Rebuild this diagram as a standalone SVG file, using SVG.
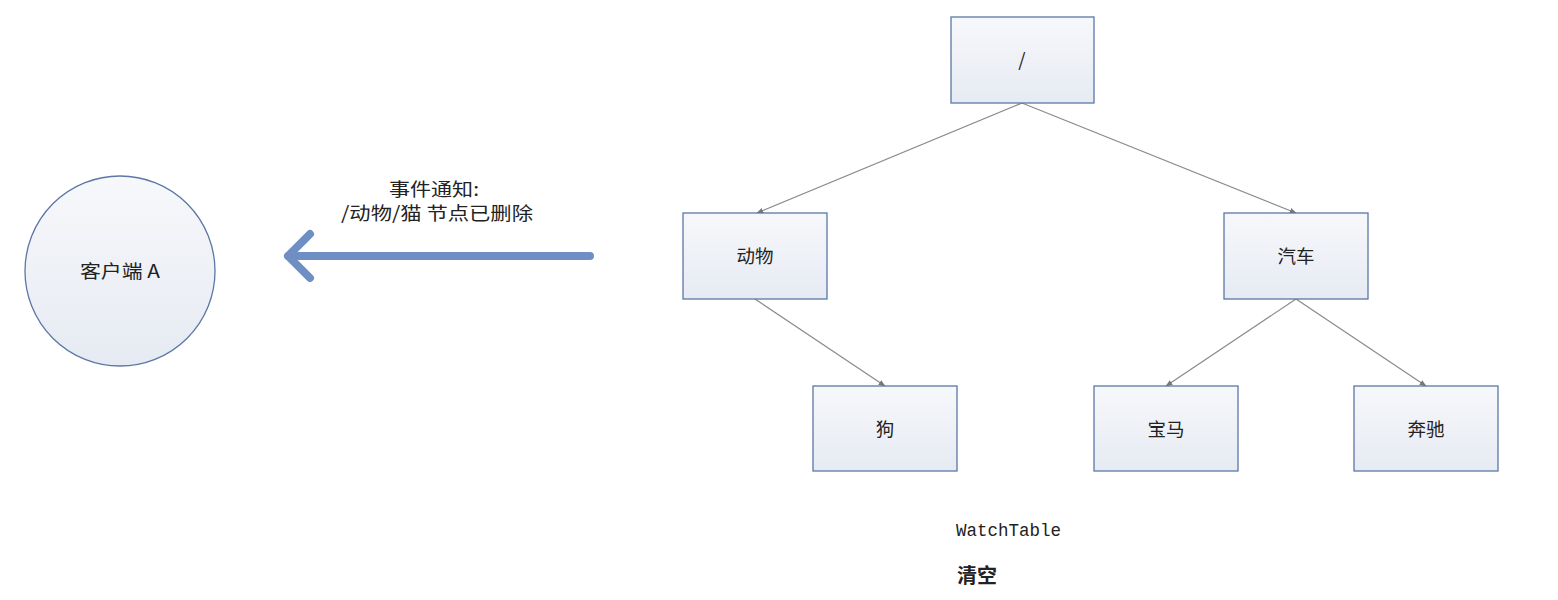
<svg xmlns="http://www.w3.org/2000/svg" width="1558" height="600" viewBox="0 0 1558 600">
<style>
.box{fill:url(#g);stroke:#5b77a6;stroke-width:1.3}
.t{font-family:"Noto Sans CJK SC","Liberation Sans",sans-serif;font-size:18.5px;fill:#222;text-anchor:middle}
.c{stroke:#8a8a8a;stroke-width:1.2;fill:none;marker-end:url(#ah)}
</style>
<defs>
<linearGradient id="g" x1="0" y1="0" x2="0" y2="1"><stop offset="0" stop-color="#f7f8fb"/><stop offset="1" stop-color="#e6eaf2"/></linearGradient>
<marker id="ah" viewBox="0 0 10 10" refX="9" refY="5" markerWidth="7" markerHeight="7" orient="auto" markerUnits="userSpaceOnUse"><path d="M0,1 L10,5 L0,9 z" fill="#777"/></marker>
</defs>
<g id="connectors">
<line class="c" x1="1022" y1="103" x2="757" y2="213"/>
<line class="c" x1="1022" y1="103" x2="1296" y2="213"/>
<line class="c" x1="755" y1="299" x2="885" y2="386"/>
<line class="c" x1="1296" y1="299" x2="1166" y2="386"/>
<line class="c" x1="1296" y1="299" x2="1426" y2="386"/>
<g id="notify">
<path d="M590,256 L288,256 M310,234 L288,256 L310,278" stroke="#6f8fc4" stroke-width="8" fill="none" stroke-linecap="round" stroke-linejoin="round"/>
<text class="t" x="434" y="196" textLength="90" lengthAdjust="spacingAndGlyphs">事件通知:</text>
<text class="t" x="437" y="220" textLength="192" lengthAdjust="spacingAndGlyphs">/动物/猫 节点已删除</text>
</g>
</g>
<g id="client"><circle cx="120" cy="271" r="95" class="box"/><text class="t" x="120" y="278" textLength="80" lengthAdjust="spacingAndGlyphs">客户端 A</text></g>
<g id="root"><rect x="951" y="17" width="143" height="86" class="box"/><text class="t" x="1022" y="67">/</text></g>
<g id="animal"><rect x="683" y="213" width="144" height="86" class="box"/><text class="t" x="755" y="263">动物</text></g>
<g id="car"><rect x="1224" y="213" width="144" height="86" class="box"/><text class="t" x="1296" y="263">汽车</text></g>
<g id="dog"><rect x="813" y="386" width="144" height="85" class="box"/><text class="t" x="885" y="436">狗</text></g>
<g id="bmw"><rect x="1094" y="386" width="144" height="85" class="box"/><text class="t" x="1166" y="436">宝马</text></g>
<g id="benz"><rect x="1354" y="386" width="144" height="85" class="box"/><text class="t" x="1426" y="436">奔驰</text></g>
<text x="956" y="536" font-family="Liberation Mono,monospace" font-size="17.5" fill="#222">WatchTable</text>
<text x="957" y="583" font-family="Noto Sans CJK SC,sans-serif" font-size="20" font-weight="bold" fill="#222">清空</text>
</svg>
